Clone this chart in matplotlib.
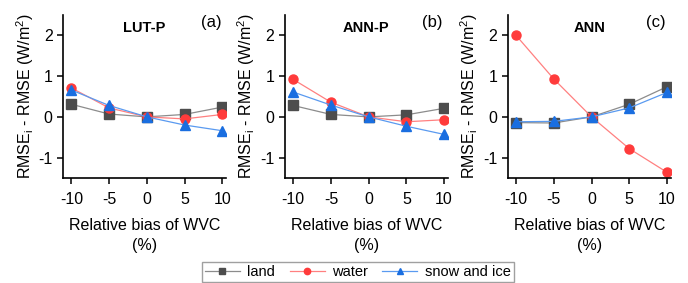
import matplotlib
matplotlib.use("Agg")
import matplotlib.pyplot as plt

plt.rcParams["font.family"] = ["Liberation Sans", "DejaVu Sans"]
plt.rcParams["axes.unicode_minus"] = False

bias = [-10, -5, 0, 5, 10]
panels = ["LUT-P", "ANN-P", "ANN"]
letters = ["(a)", "(b)", "(c)"]

land = [
    [0.31, 0.07, 0.0, 0.06, 0.24],
    [0.28, 0.06, 0.0, 0.05, 0.21],
    [-0.14, -0.15, 0.0, 0.31, 0.74],
]
water = [
    [0.71, 0.22, 0.0, -0.05, 0.06],
    [0.92, 0.36, 0.0, -0.12, -0.07],
    [2.0, 0.93, 0.0, -0.78, -1.36],
]
snow = [
    [0.66, 0.28, 0.0, -0.20, -0.34],
    [0.61, 0.29, 0.0, -0.23, -0.43],
    [-0.12, -0.11, 0.0, 0.22, 0.60],
]

series = [
    ("land", land, "s", "#4d4d4d", "#8c8c8c"),
    ("water", water, "o", "#ff3b3b", "#ff8080"),
    ("snow and ice", snow, "^", "#1a6ee0", "#5a9af0"),
]

fig = plt.figure(figsize=(6.88, 2.83), dpi=100)
lefts = [0.0916, 0.414, 0.738]
handles = []
for k, left in enumerate(lefts):
    ax = fig.add_axes([left, 0.371, 0.237, 0.576])
    for name, data, mk, mc, lc in series:
        h, = ax.plot(bias, data[k], color=lc, lw=0.9, marker=mk, ms=6.5,
                     mfc=mc, mec=mc, label=name)
        if k == 0:
            handles.append(h)
    ax.set_xlim(-11.1, 10.5)
    ax.set_ylim(-1.5, 2.5)
    ax.set_xticks(bias)
    ax.set_yticks([-1, 0, 1, 2])
    for s in ("top", "right"):
        ax.spines[s].set_visible(False)
    ax.spines["left"].set_linewidth(1.2)
    ax.spines["bottom"].set_linewidth(1.2)
    ax.tick_params(labelsize=11.5, length=4, width=1.1)
    ax.tick_params(axis="x", pad=6)
    ax.set_ylabel("RMSE$_\\mathregular{i}$ - RMSE (W/m$^\\mathregular{2}$)", fontsize=11.5, labelpad=2)
    ax.set_xlabel("Relative bias of WVC\n(%)", fontsize=11.5, labelpad=8, linespacing=1.45)
    ax.text(0.5, 0.92, panels[k], transform=ax.transAxes, ha="center", va="center",
            fontsize=10.5, fontweight="bold")
    ax.text(0.97, 0.955, letters[k], transform=ax.transAxes, ha="right", va="center",
            fontsize=12)

fig.legend(handles=handles, loc="lower center", bbox_to_anchor=(0.52, 0.0), ncol=3,
           fontsize=10.5, frameon=True, fancybox=False, edgecolor="#888888",
           handlelength=2.4, columnspacing=1.0, handletextpad=0.5,
           markerscale=0.7, borderpad=0.2, borderaxespad=0.1)

fig.savefig("out.png", dpi=100)
